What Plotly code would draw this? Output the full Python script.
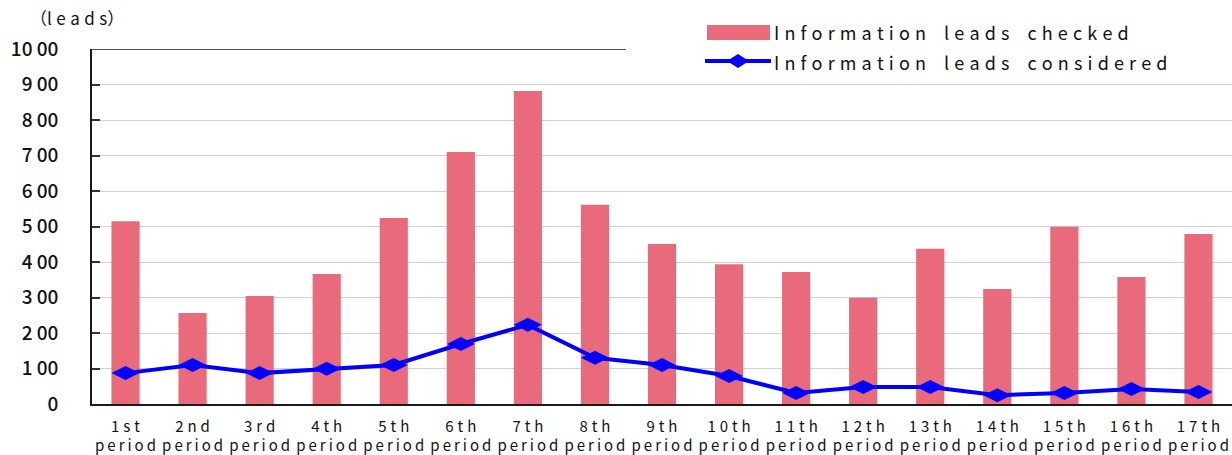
import plotly.graph_objects as go

# Survey periods and counts of information leads
periods = ["1st", "2nd", "3rd", "4th", "5th", "6th", "7th", "8th", "9th",
           "10th", "11th", "12th", "13th", "14th", "15th", "16th", "17th"]
leads_checked = [515, 256, 304, 366, 524, 710, 882, 561, 451,
                 394, 372, 299, 437, 324, 499, 358, 479]
leads_considered = [87, 110, 87, 99, 110, 169, 223, 130, 110,
                    79, 31, 48, 48, 25, 31, 42, 34]

y_tick_values = [0, 100, 200, 300, 400, 500, 600, 700, 800, 900, 1000]
y_tick_labels = ["0", "1 00", "2 00", "3 00", "4 00", "5 00",
                 "6 00", "7 00", "8 00", "9 00", "10 00"]

series_names = ["Information leads checked", "Information leads considered"]

BAR_COLOR = "#E96A7A"
LINE_COLOR = "#0000FF"
FONT = "Noto Sans CJK JP, DejaVu Sans, sans-serif"

W, H = 1232, 455
ML, MR, MT, MB = 92, 0, 49, 51
PW, PH = W - ML - MR, H - MT - MB


def spaced(text, gap="\u2009"):
    return gap.join(text)


def legend_text(text):
    return "\u2003".join(" \u200a".join(word) for word in text.split(" "))


def px_x(px):
    return (px - ML) / PW


def px_y(py):
    return (H - MB - py) / PH


x_tick_text = [spaced(p, "\u2009\u200a") + "<br>" + spaced("period", "\u2009")
               for p in periods]

fig = go.Figure()

fig.add_trace(go.Bar(
    x=periods,
    y=leads_checked,
    marker=dict(color=BAR_COLOR, line=dict(width=0)),
    name=series_names[0],
    showlegend=False,
))

fig.add_trace(go.Scatter(
    x=periods,
    y=leads_considered,
    mode="lines+markers",
    line=dict(color=LINE_COLOR, width=4),
    marker=dict(symbol="diamond-wide", size=20, color=LINE_COLOR),
    name=series_names[1],
    showlegend=False,
))

# Hand-drawn legend swatches
shapes = [
    dict(type="rect", xref="paper", yref="paper",
         x0=px_x(707), x1=px_x(770), y0=px_y(40), y1=px_y(25),
         fillcolor=BAR_COLOR, line=dict(width=0)),
    dict(type="line", xref="paper", yref="paper",
         x0=px_x(705), x1=px_x(771), y0=px_y(61), y1=px_y(61),
         line=dict(color=LINE_COLOR, width=4)),
    dict(type="path", xref="paper", yref="paper",
         xsizemode="pixel", ysizemode="pixel",
         xanchor=px_x(738), yanchor=px_y(61),
         path="M-11,0 L0,7 L11,0 L0,-7 Z",
         fillcolor=LINE_COLOR, line=dict(width=0)),
    # partial top border of the plot frame
    dict(type="line", xref="paper", yref="y",
         x0=0, x1=px_x(626), y0=1000, y1=1000,
         line=dict(color="#1a1a1a", width=1.5)),
]

annotations = [
    dict(text=legend_text(series_names[0]), xref="paper", yref="paper",
         x=px_x(772), y=px_y(32), xanchor="left", yanchor="middle",
         showarrow=False, font=dict(family=FONT, size=18, color="#111")),
    dict(text=legend_text(series_names[1]), xref="paper", yref="paper",
         x=px_x(772), y=px_y(62), xanchor="left", yanchor="middle",
         showarrow=False, font=dict(family=FONT, size=18, color="#111")),
    dict(text="（" + "\u2009\u200a".join("leads") + "）", xref="paper", yref="paper",
         x=px_x(28), y=px_y(18), xanchor="left", yanchor="middle",
         showarrow=False, font=dict(family=FONT, size=17, color="#111")),
]

fig.update_layout(
    width=W, height=H,
    margin=dict(l=ML, r=MR, t=MT, b=MB, pad=0),
    paper_bgcolor="white",
    plot_bgcolor="white",
    bargap=0.58,
    shapes=shapes,
    annotations=annotations,
    font=dict(family=FONT, color="#111"),
)

fig.update_xaxes(
    range=[-0.5, len(periods) - 0.5],
    tickmode="array",
    tickvals=periods,
    ticktext=x_tick_text,
    tickangle=0,
    automargin=False,
    tickfont=dict(family=FONT, size=15, color="#111"),
    showline=True, linecolor="#1a1a1a", linewidth=1.5,
    ticks="", showgrid=False,
    ticklabelstandoff=8,
)

fig.update_yaxes(
    range=[0, 1000],
    automargin=False,
    tickmode="array",
    tickvals=y_tick_values,
    ticktext=y_tick_labels,
    tickfont=dict(family=FONT, size=19, color="#111", weight=500),
    showline=True, linecolor="#1a1a1a", linewidth=1.5,
    ticks="inside", ticklen=8, tickcolor="#333", tickwidth=1.5,
    ticklabelstandoff=28,
    showgrid=False,
    zeroline=False,
    minor=dict(tickvals=y_tick_values[1:-1], showgrid=True,
               gridcolor="#D0D0D0", gridwidth=1, ticks=""),
)

fig.write_html("out.html")
